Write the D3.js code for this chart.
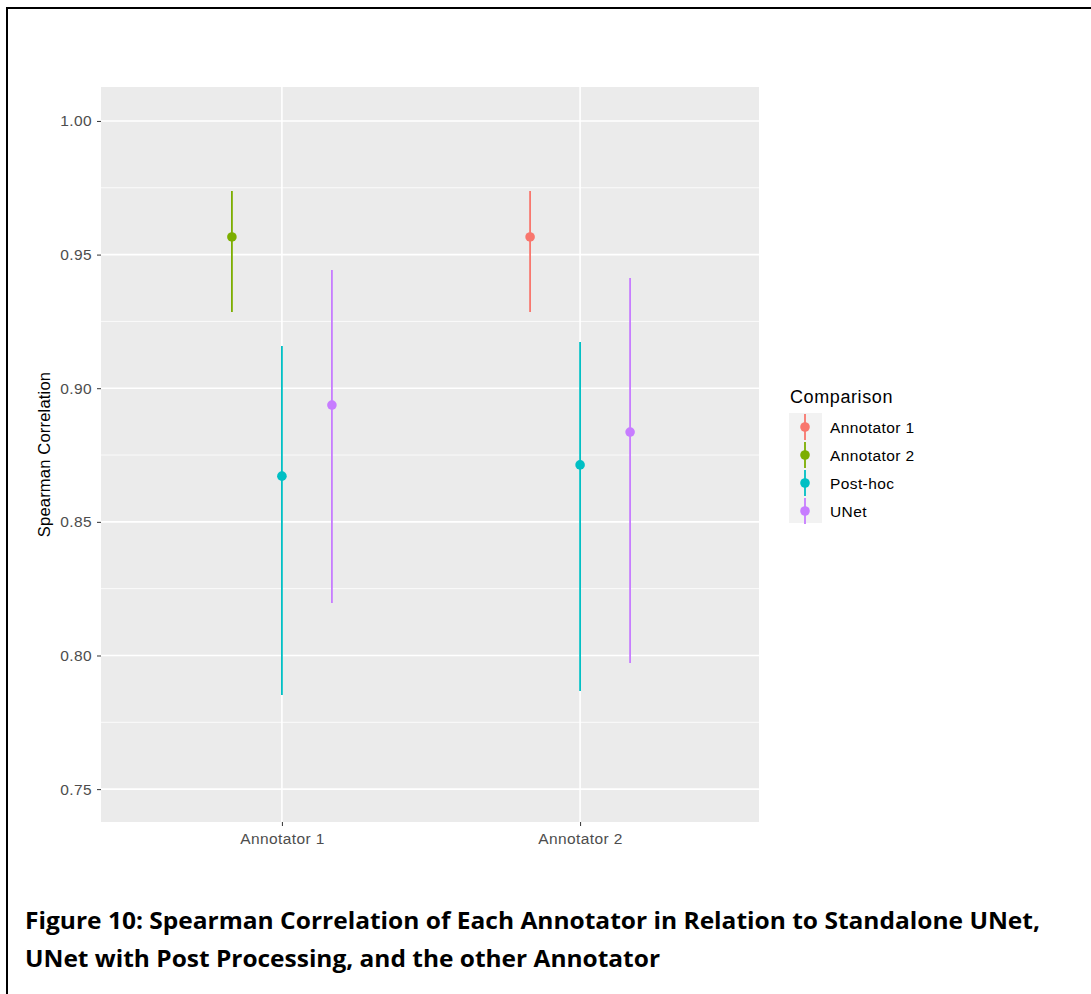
<!DOCTYPE html>
<html>
<head>
<meta charset="utf-8">
<script src="https://cdn.jsdelivr.net/npm/d3@7"></script>
<style>
  body { margin: 0; background: white; }
  text { font-family: "Liberation Sans", Arial, sans-serif; }
</style>
</head>
<body>
<div class="board"></div>
<script>
// data
var groups = ["Annotator 1", "Annotator 2"]
var comparisons = ["Annotator 1", "Annotator 2", "Post-hoc", "UNet"]
var colors = ["#F8766D", "#7CAE00", "#00BFC4", "#C77CFF"]

// rows: group, comparison, estimate, lower, upper
var rowGroup = ["Annotator 1", "Annotator 1", "Annotator 1", "Annotator 2", "Annotator 2", "Annotator 2"]
var rowComparison = ["Annotator 2", "Post-hoc", "UNet", "Annotator 1", "Post-hoc", "UNet"]
var rowEstimate = [0.9566, 0.8671, 0.8937, 0.9566, 0.8713, 0.8836]
var rowLower = [0.9285, 0.7852, 0.8196, 0.9285, 0.7867, 0.7972]
var rowUpper = [0.9738, 0.9158, 0.9442, 0.9738, 0.9173, 0.9412]

var yTicks = [0.75, 0.80, 0.85, 0.90, 0.95, 1.00]
var yMinor = [0.775, 0.825, 0.875, 0.925, 0.975]

var caption = ["Figure 10: Spearman Correlation of Each Annotator in Relation to Standalone UNet,",
    "UNet with Post Processing, and the other Annotator"]
var captionWidth = [1015, 635]

var rows = rowGroup.map((g, i) => ({
    group: g, comparison: rowComparison[i],
    est: rowEstimate[i], lo: rowLower[i], hi: rowUpper[i]
}))

var W = 1091, H = 994
var panel = { left: 101, right: 759, top: 87, bottom: 822 }

var svg = d3.select(".board")
    .append("svg")
    .attr("width", W)
    .attr("height", H)

// page frame
svg.append("path")
    .attr("d", `M7,${H + 5} V8 H${W + 5}`)
    .attr("fill", "none")
    .attr("stroke", "black")
    .attr("stroke-width", 2)

let yScale = d3.scaleLinear()
    .domain([0.7377, 1.0127])
    .range([panel.bottom, panel.top])

let xScale = d3.scalePoint()
    .domain(groups)
    .range([103, panel.right])
    .padding(0.6)

let dodge = d3.scalePoint()
    .domain([0, 1, 2])
    .range([-50, 50])

let color = d3.scaleOrdinal()
    .domain(comparisons)
    .range(colors)

// panel
svg.append("rect")
    .attr("x", panel.left)
    .attr("y", panel.top)
    .attr("width", panel.right - panel.left)
    .attr("height", panel.bottom - panel.top)
    .attr("fill", "#EBEBEB")

svg.selectAll(".minor")
    .data(yMinor)
    .enter()
    .append("line")
    .attr("x1", panel.left).attr("x2", panel.right)
    .attr("y1", d => yScale(d)).attr("y2", d => yScale(d))
    .attr("stroke", "white")
    .attr("stroke-width", 0.8)

svg.selectAll(".major")
    .data(yTicks)
    .enter()
    .append("line")
    .attr("x1", panel.left).attr("x2", panel.right)
    .attr("y1", d => yScale(d)).attr("y2", d => yScale(d))
    .attr("stroke", "white")
    .attr("stroke-width", 1.6)

svg.selectAll(".vmajor")
    .data(groups)
    .enter()
    .append("line")
    .attr("x1", d => xScale(d)).attr("x2", d => xScale(d))
    .attr("y1", panel.top).attr("y2", panel.bottom)
    .attr("stroke", "white")
    .attr("stroke-width", 1.6)

// axes
let yAxis = svg.append("g")
    .attr("transform", `translate(${panel.left}, 0)`)
    .call(d3.axisLeft(yScale).tickValues(yTicks).tickFormat(d3.format(".2f")).tickSize(4).tickPadding(5))
yAxis.select(".domain").remove()
yAxis.selectAll("line").attr("stroke", "#333333")
yAxis.selectAll("text")
    .attr("fill", "#4D4D4D")
    .style("font-size", "15.5px")
    .style("letter-spacing", "0.4px")
    .style("font-family", "'Liberation Sans', Arial, sans-serif")

let xAxis = svg.append("g")
    .attr("transform", `translate(0, ${panel.bottom})`)
    .call(d3.axisBottom(xScale).tickSize(4).tickPadding(7))
xAxis.select(".domain").remove()
xAxis.selectAll("line").attr("stroke", "#333333")
xAxis.selectAll("text")
    .attr("fill", "#4D4D4D")
    .style("font-size", "15.5px")
    .style("letter-spacing", "0.4px")
    .style("font-family", "'Liberation Sans', Arial, sans-serif")

svg.append("text")
    .attr("transform", `translate(50, ${(panel.top + panel.bottom) / 2}) rotate(-90)`)
    .attr("text-anchor", "middle")
    .attr("fill", "black")
    .style("font-size", "16.5px")
    .style("letter-spacing", "0.2px")
    .text("Spearman Correlation")

// point ranges
rows.forEach(r => {
    let present = rows.filter(d => d.group == r.group).map(d => d.comparison)
    r.x = xScale(r.group) + dodge(present.indexOf(r.comparison))
})

svg.selectAll(".range")
    .data(rows)
    .enter()
    .append("line")
    .attr("x1", d => d.x).attr("x2", d => d.x)
    .attr("y1", d => yScale(d.lo)).attr("y2", d => yScale(d.hi))
    .attr("stroke", d => color(d.comparison))
    .attr("stroke-width", 1.8)

svg.selectAll(".pt")
    .data(rows)
    .enter()
    .append("circle")
    .attr("cx", d => d.x)
    .attr("cy", d => yScale(d.est))
    .attr("r", 4.8)
    .attr("fill", d => color(d.comparison))

// legend
let legend = svg.append("g").attr("transform", "translate(789, 0)")
legend.append("text")
    .attr("x", 1).attr("y", 403)
    .attr("fill", "black")
    .style("font-size", "18px")
    .style("letter-spacing", "0.6px")
    .text("Comparison")

legend.append("rect")
    .attr("x", 0).attr("y", 413)
    .attr("width", 33).attr("height", 110)
    .attr("fill", "#F2F2F2")

let keys = legend.selectAll(".key")
    .data(comparisons)
    .enter()
    .append("g")
    .attr("transform", (d, i) => `translate(0, ${427 + i * 28})`)

keys.append("line")
    .attr("x1", 16).attr("x2", 16)
    .attr("y1", -13).attr("y2", 13)
    .attr("stroke", d => color(d))
    .attr("stroke-width", 1.8)
keys.append("circle")
    .attr("cx", 16).attr("cy", 0).attr("r", 4.8)
    .attr("fill", d => color(d))
keys.append("text")
    .attr("x", 41).attr("y", 6)
    .attr("fill", "black")
    .style("font-size", "15.5px")
    .style("letter-spacing", "0.4px")
    .text(d => d)

// caption
svg.selectAll(".caption")
    .data(caption)
    .enter()
    .append("text")
    .attr("x", 25)
    .attr("y", (d, i) => 929 + i * 38)
    .attr("fill", "black")
    .attr("textLength", (d, i) => captionWidth[i])
    .attr("lengthAdjust", "spacingAndGlyphs")
    .style("font-family", "'Open Sans', Lato, sans-serif")
    .style("font-weight", "bold")
    .style("font-size", "24px")
    .text(d => d)
</script>
</body>
</html>
